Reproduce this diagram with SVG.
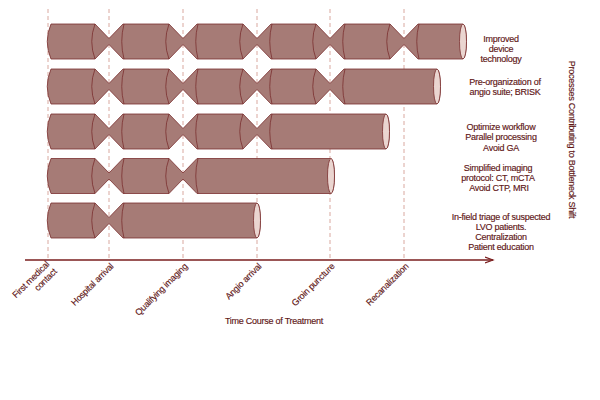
<svg xmlns="http://www.w3.org/2000/svg" width="600" height="400" viewBox="0 0 600 400">
<defs>
<style>
.grid{stroke:#d9a89f;stroke-width:1;stroke-dasharray:4 3;fill:none}
.body{fill:#a67b76;stroke:#7a2e2e;stroke-width:0.8}
.seam{fill:none;stroke:#7a2e2e;stroke-width:0.8}
.cap{fill:#ead5d0;stroke:#7a2e2e;stroke-width:0.8}
.t{font-family:"Liberation Sans",Arial,sans-serif;font-size:9px;fill:#601616;letter-spacing:-0.25px;stroke:#601616;stroke-width:0.15px}
.rl{text-anchor:middle}
.al{text-anchor:end}
</style>
<marker id="arr" markerWidth="10" markerHeight="8" refX="8" refY="4" orient="auto" markerUnits="userSpaceOnUse">
<path d="M0,1 L8,4 L0,7" fill="none" stroke="#7a1e1e" stroke-width="1.2"/>
</marker>
</defs>
<rect width="600" height="400" fill="#ffffff"/>
<g id="grid">
<line class="grid" x1="48" y1="9" x2="48" y2="259"/>
<line class="grid" x1="109" y1="9" x2="109" y2="259"/>
<line class="grid" x1="183" y1="9" x2="183" y2="259"/>
<line class="grid" x1="257" y1="9" x2="257" y2="259"/>
<line class="grid" x1="330" y1="9" x2="330" y2="259"/>
<line class="grid" x1="404" y1="9" x2="404" y2="259"/>
</g>
<g id="row1" transform="translate(0,24)">
<path class="body" d="M51,0 L95,0 L109,14.5 L123,0 L169,0 L183,14.5 L197,0 L243,0 L257,14.5 L271,0 L316,0 L330,14.5 L344,0 L390,0 L404,14.5 L418,0 L463,0 A3.5,17.5 0 0 1 463,35 L418,35 L404,20.5 L390,35 L344,35 L330,20.5 L316,35 L271,35 L257,20.5 L243,35 L197,35 L183,20.5 L169,35 L123,35 L109,20.5 L95,35 L51,35 Q43.5,17.5 51,0 Z"/>
<path class="seam" d="M95,0 Q88.5,17.5 95,35 M124,0 Q119.5,17.5 124,35 M169,0 Q162.5,17.5 169,35 M198,0 Q193.5,17.5 198,35 M243,0 Q236.5,17.5 243,35 M272,0 Q267.5,17.5 272,35 M316,0 Q309.5,17.5 316,35 M345,0 Q340.5,17.5 345,35 M390,0 Q383.5,17.5 390,35 M419,0 Q414.5,17.5 419,35"/>
<ellipse class="cap" cx="463" cy="17.5" rx="3.5" ry="17.5"/>
</g>
<g id="row2" transform="translate(0,69)">
<path class="body" d="M51,0 L95,0 L109,14.5 L123,0 L169,0 L183,14.5 L197,0 L243,0 L257,14.5 L271,0 L316,0 L330,14.5 L344,0 L437,0 A3.5,17.5 0 0 1 437,35 L344,35 L330,20.5 L316,35 L271,35 L257,20.5 L243,35 L197,35 L183,20.5 L169,35 L123,35 L109,20.5 L95,35 L51,35 Q43.5,17.5 51,0 Z"/>
<path class="seam" d="M95,0 Q88.5,17.5 95,35 M124,0 Q119.5,17.5 124,35 M169,0 Q162.5,17.5 169,35 M198,0 Q193.5,17.5 198,35 M243,0 Q236.5,17.5 243,35 M272,0 Q267.5,17.5 272,35 M316,0 Q309.5,17.5 316,35 M345,0 Q340.5,17.5 345,35"/>
<ellipse class="cap" cx="437" cy="17.5" rx="3.5" ry="17.5"/>
</g>
<g id="row3" transform="translate(0,114)">
<path class="body" d="M51,0 L95,0 L109,14.5 L123,0 L169,0 L183,14.5 L197,0 L243,0 L257,14.5 L271,0 L386,0 A3.5,17.5 0 0 1 386,35 L271,35 L257,20.5 L243,35 L197,35 L183,20.5 L169,35 L123,35 L109,20.5 L95,35 L51,35 Q43.5,17.5 51,0 Z"/>
<path class="seam" d="M95,0 Q88.5,17.5 95,35 M124,0 Q119.5,17.5 124,35 M169,0 Q162.5,17.5 169,35 M198,0 Q193.5,17.5 198,35 M243,0 Q236.5,17.5 243,35 M272,0 Q267.5,17.5 272,35"/>
<ellipse class="cap" cx="386" cy="17.5" rx="3.5" ry="17.5"/>
</g>
<g id="row4" transform="translate(0,158.5)">
<path class="body" d="M51,0 L95,0 L109,14.5 L123,0 L169,0 L183,14.5 L197,0 L331,0 A3.5,17.5 0 0 1 331,35 L197,35 L183,20.5 L169,35 L123,35 L109,20.5 L95,35 L51,35 Q43.5,17.5 51,0 Z"/>
<path class="seam" d="M95,0 Q88.5,17.5 95,35 M124,0 Q119.5,17.5 124,35 M169,0 Q162.5,17.5 169,35 M198,0 Q193.5,17.5 198,35"/>
<ellipse class="cap" cx="331" cy="17.5" rx="3.5" ry="17.5"/>
</g>
<g id="row5" transform="translate(0,203)">
<path class="body" d="M51,0 L95,0 L109,14.5 L123,0 L257,0 A3.5,17.5 0 0 1 257,35 L123,35 L109,20.5 L95,35 L51,35 Q43.5,17.5 51,0 Z"/>
<path class="seam" d="M95,0 Q88.5,17.5 95,35 M124,0 Q119.5,17.5 124,35"/>
<ellipse class="cap" cx="257" cy="17.5" rx="3.5" ry="17.5"/>
</g>
<g id="connectors">
<line x1="25" y1="260" x2="493" y2="260" stroke="#7a1e1e" stroke-width="1.5" marker-end="url(#arr)"/>
</g>
<g id="axis-labels">
<text class="t al" transform="translate(53,268) rotate(-45)"><tspan x="0" y="-4.5">First medical</tspan><tspan x="0" y="6">contact</tspan></text>
<text class="t al" transform="translate(114,267) rotate(-45)">Hospital arrival</text>
<text class="t al" transform="translate(188,267) rotate(-45)">Qualifying imaging</text>
<text class="t al" transform="translate(262,267) rotate(-45)">Angio arrival</text>
<text class="t al" transform="translate(335,267) rotate(-45)">Groin puncture</text>
<text class="t al" transform="translate(409,267) rotate(-45)">Recanalization</text>
<text class="t rl" x="274" y="324">Time Course of Treatment</text>
</g>
<g id="side-labels">
<text class="t rl" x="501" y="41.5"><tspan x="501">Improved</tspan><tspan x="501" dy="10.3">device</tspan><tspan x="501" dy="10.3">technology</tspan></text>
<text class="t rl" x="505" y="85"><tspan x="505">Pre-organization of</tspan><tspan x="505" dy="10.3">angio suite; BRISK</tspan></text>
<text class="t rl" x="501" y="130"><tspan x="501">Optimize workflow</tspan><tspan x="501" dy="10.3">Parallel processing</tspan><tspan x="501" dy="10.3">Avoid GA</tspan></text>
<text class="t rl" x="498" y="170.5"><tspan x="498">Simplified imaging</tspan><tspan x="498" dy="10.3">protocol: CT, mCTA</tspan><tspan x="499" dy="10.3">Avoid CTP, MRI</tspan></text>
<text class="t rl" x="501" y="219.5"><tspan x="501">In-field triage of suspected</tspan><tspan x="501" dy="10.3">LVO patients.</tspan><tspan x="501" dy="10.3">Centralization</tspan><tspan x="501" dy="10.3">Patient education</tspan></text>
<text class="t rl" transform="translate(568.5,139.5) rotate(90)">Processes Contributing to Bottleneck Shift</text>
</g>
</svg>
